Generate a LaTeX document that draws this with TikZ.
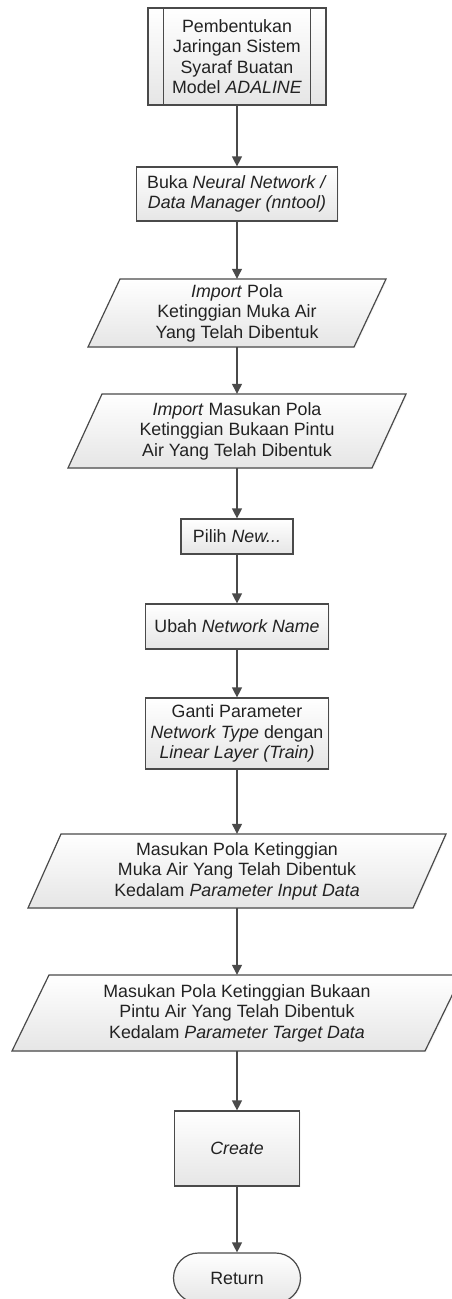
\documentclass[tikz,border=0pt]{standalone}
\usepackage{fontspec}
\setmainfont{Liberation Sans}
\usetikzlibrary{arrows.meta,calc,shadows,shapes.misc}
\definecolor{edge}{HTML}{4A4A4A}
\definecolor{ink}{HTML}{222222}
\newcommand\fs{\fontsize{17.8}{20.5}\selectfont}
\tikzset{
  shapefill/.style={top color=white, bottom color=black!10, draw=edge, line width=1.2pt,
    drop shadow={opacity=0.07, shadow xshift=1.2pt, shadow yshift=-1.2pt}},
  box/.style={shapefill, rectangle, inner sep=0pt, align=center, text=ink, font=\fs},
  txt/.style={inner sep=0pt, align=center, text=ink, font=\fs},
  sideline/.style={draw=edge, line width=1.2pt},
  arr/.style={draw=edge, line width=1.2pt, -{Triangle[length=10pt,width=10pt]}},
}
\newcommand\parabox[6]{%
  \path[shapefill] ($#2+({-(#3)/2+(#5)/2},{-(#4)/2})$) -- ($#2+({(#3)/2+(#5)/2},{-(#4)/2})$)
     -- ($#2+({(#3)/2-(#5)/2},{(#4)/2})$) -- ($#2+({-(#3)/2-(#5)/2},{(#4)/2})$) -- cycle;
  \node[txt, minimum width=#3pt, minimum height=#4pt] (#1) at #2 {#6};%
}
\begin{document}
\begin{tikzpicture}[x=1pt,y=-1pt]
\useasboundingbox (0,0) rectangle (451,1299);
\fill[white] (0,0) rectangle (451,1299);

\node[box, minimum width=178pt, minimum height=97pt] (n1) at (237,56.5)
  {Pembentukan\\Jaringan Sistem\\Syaraf Buatan\\Model \textit{ADALINE}};
\draw[sideline] ([xshift=16pt]n1.north west) -- ([xshift=16pt]n1.south west);
\draw[sideline] ([xshift=-16pt]n1.north east) -- ([xshift=-16pt]n1.south east);

\node[box, minimum width=201pt, minimum height=54pt] (n2) at (237,194)
  {Buka \textit{Neural Network /}\\\textit{Data Manager (nntool)}};

\parabox{p1}{(237,313)}{266}{68}{32}{\textit{Import} Pola\\Ketinggian Muka Air\\Yang Telah Dibentuk}
\parabox{p2}{(237,431)}{304}{74}{34}{\textit{Import} Masukan Pola\\Ketinggian Bukaan Pintu\\Air Yang Telah Dibentuk}

\node[box, minimum width=112pt, minimum height=35pt] (n5) at (237,536.5) {Pilih \textit{New...}};
\node[box, minimum width=183pt, minimum height=45pt] (n6) at (237,626.5) {Ubah \textit{Network Name}};
\node[box, minimum width=183pt, minimum height=71pt] (n7) at (237,733.5)
  {Ganti Parameter\\\textit{Network Type} dengan\\\textit{Linear Layer (Train)}};

\parabox{p3}{(237,871)}{385}{74}{33}{Masukan Pola Ketinggian\\Muka Air Yang Telah Dibentuk\\Kedalam \textit{Parameter Input Data}}
\parabox{p4}{(237,1013)}{413}{76}{37}{Masukan Pola Ketinggian Bukaan\\Pintu Air Yang Telah Dibentuk\\Kedalam \textit{Parameter Target Data}}

\node[box, minimum width=125pt, minimum height=75pt] (cr) at (237,1148.5) {\textit{Create}};
\node[box, rounded rectangle, minimum width=127pt, minimum height=50pt] (ret) at (237,1278) {Return};

\draw[arr] (n1.south) -- (n2.north);
\draw[arr] (n2.south) -- (p1.north);
\draw[arr] (p1.south) -- (p2.north);
\draw[arr] (p2.south) -- (n5.north);
\draw[arr] (n5.south) -- (n6.north);
\draw[arr] (n6.south) -- (n7.north);
\draw[arr] (n7.south) -- (p3.north);
\draw[arr] (p3.south) -- (p4.north);
\draw[arr] (p4.south) -- (cr.north);
\draw[arr] (cr.south) -- (ret.north);
\end{tikzpicture}
\end{document}
